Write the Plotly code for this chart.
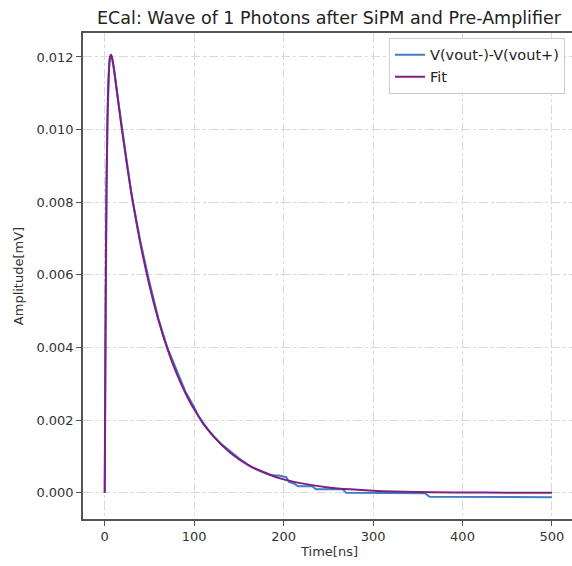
import plotly.graph_objects as go

t_sig = [0, 0.5, 1, 2, 3, 4, 5, 6, 7, 8, 10, 15, 20, 30, 40, 50, 60, 70, 80, 90,
         100, 105, 110, 115, 120, 130, 140, 150, 160, 165, 170, 175, 180, 185, 190,
         195, 200, 203, 206, 212, 216, 232, 236, 266, 270, 358, 363, 500]
v_sig = [0, 0.0029, 0.0052, 0.0084, 0.0102, 0.0112, 0.0118, 0.0120, 0.01204, 0.0120,
         0.0117, 0.0108, 0.0099, 0.0082, 0.0069, 0.0058, 0.0048, 0.0040, 0.0034, 0.0028,
         0.00236, 0.0021, 0.0019, 0.00175, 0.0016, 0.00135, 0.00115, 0.00095, 0.00078,
         0.0007, 0.00065, 0.0006, 0.00055, 0.0005, 0.00048, 0.00048, 0.00045, 0.00043,
         0.0003, 0.00025, 0.00018, 0.00018, 0.0001, 0.0001, 0.0, -0.00001, -0.00011, -0.00012]

# fit curve
t_fit = [0, 0.5, 1, 2, 3, 4, 5, 6, 7, 8, 10, 15, 20, 30, 40, 50, 60, 70, 80, 90,
         100, 120, 140, 160, 180, 200, 225, 250, 275, 300, 350, 400, 450, 500]
v_fit = [0, 0.00301, 0.00532, 0.00846, 0.01026, 0.01127, 0.01178, 0.01201, 0.01206,
         0.01200, 0.01173, 0.01079, 0.00986, 0.00822, 0.00685, 0.00571, 0.00476,
         0.00397, 0.00331, 0.00276, 0.00230, 0.00160, 0.00111, 0.00077, 0.00054,
         0.00037, 0.00024, 0.00015, 0.000096, 0.000061, 0.000024, 0.00001, 0.000004, 0.000002]

font = "DejaVu Sans, Liberation Sans, sans-serif"

fig = go.Figure()
fig.add_trace(go.Scatter(x=t_sig, y=v_sig, mode="lines", name="V(vout-)-V(vout+)",
                         line=dict(color="#3d7fc0", width=2)))
fig.add_trace(go.Scatter(x=t_fit, y=v_fit, mode="lines", name="Fit",
                         line=dict(color="#7d1f86", width=2, shape="spline")))

axis_common = dict(showline=True, linecolor="#555", linewidth=1.5,
                   ticks="outside", ticklen=5, tickcolor="#555",
                   showgrid=True, gridcolor="#d9d9d9", griddash="dashdot", gridwidth=1,
                   zeroline=False, tickfont=dict(size=13, color="#333"))

# the original is cropped just before its right spine: draw a little wider and hide the overflow
fig.update_layout(
    width=576, height=566,
    margin=dict(l=83, r=0, t=33, b=47),
    paper_bgcolor="white", plot_bgcolor="white",
    font=dict(family=font, color="#333"),
    title=dict(text="ECal: Wave of 1 Photons after SiPM and Pre-Amplifier",
               x=329 / 576, xanchor="center", y=0.968, yanchor="middle",
               font=dict(size=17.5, color="#222")),
    xaxis=dict(range=[-24.3, 526.9], tickvals=[0, 100, 200, 300, 400, 500], mirror=True,
               title=dict(text="Time[ns]", font=dict(size=13), standoff=4), **axis_common),
    yaxis=dict(range=[-0.00072, 0.01266], mirror=False,
               tickvals=[0, 0.002, 0.004, 0.006, 0.008, 0.010, 0.012],
               tickformat=".3f",
               title=dict(text="Amplitude[mV]", font=dict(size=13), standoff=10), **axis_common),
    legend=dict(x=(565 - 83) / 493, y=0.99, xanchor="right", yanchor="top",
                bgcolor="white", bordercolor="#cccccc", borderwidth=1,
                font=dict(size=14.5, color="#222")),
)

fig.write_html("out.html", config={"displayModeBar": False},
               post_script="document.body.style.margin='0';document.body.style.overflow='hidden';")
